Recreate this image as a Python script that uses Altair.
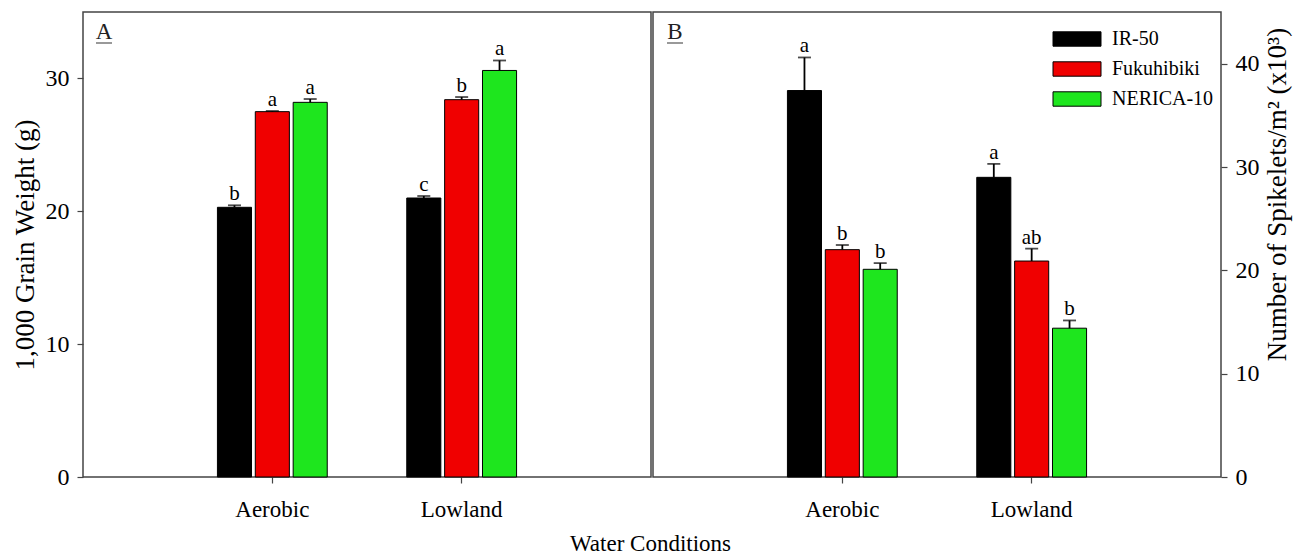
import altair as alt
import pandas as pd

FONT = "Liberation Serif"

conditions = ["Aerobic", "Lowland"]
varieties = ["IR-50", "Fukuhibiki", "NERICA-10"]
colors = ["#000000", "#f00000", "#1ee61e"]

row_cond = ["Aerobic", "Aerobic", "Aerobic", "Lowland", "Lowland", "Lowland"]
row_var = ["IR-50", "Fukuhibiki", "NERICA-10", "IR-50", "Fukuhibiki", "NERICA-10"]

# Panel A: 1,000 grain weight (g)
grain_mean = [20.3, 27.5, 28.2, 21.0, 28.4, 30.6]
grain_err = [0.15, 0.05, 0.25, 0.15, 0.2, 0.75]
grain_letter = ["b", "a", "a", "c", "b", "a"]

# Panel B: number of spikelets / m2 (x10^3)
spk_mean = [37.4, 22.0, 20.1, 29.0, 20.9, 14.4]
spk_err = [3.2, 0.45, 0.6, 1.3, 1.2, 0.75]
spk_letter = ["a", "b", "b", "a", "ab", "b"]


def make_df(mean, err, letters):
    return pd.DataFrame({
        "cond": row_cond,
        "var": row_var,
        "mean": mean,
        "upper": [m + e for m, e in zip(mean, err)],
        "letter": letters,
    })


W, H = 568, 465


def panel(df, ydomain, yticks, ytitle, orient, tag, tag_x, legend, title_y=None, title_pad=9):
    xenc = alt.X(
        "cond:N",
        scale=alt.Scale(domain=conditions, paddingInner=0.42, paddingOuter=0.71),
        axis=alt.Axis(title=None, labelAngle=0, domain=False, ticks=True, tickSize=6,
                      tickColor="#444", tickWidth=1.2, labelFont=FONT, labelFontSize=23,
                      labelColor="black", labelPadding=15),
    )
    xoff = alt.XOffset("var:N", scale=alt.Scale(domain=varieties, paddingInner=0.1, paddingOuter=0))
    ax_kw = dict(title=ytitle, orient=orient, values=yticks, grid=False, domain=False,
                 tickSize=6, tickColor="#444", tickWidth=1.2, labelFont=FONT, labelFontSize=24,
                 labelColor="black", labelPadding=8, titleFont=FONT, titleFontSize=27,
                 titleFontWeight="normal", titleColor="black", titlePadding=title_pad)
    if title_y is not None:
        ax_kw["titleY"] = title_y
        ax_kw["titleAngle"] = 270
        ax_kw["titleBaseline"] = "top"
    yscale = alt.Scale(domain=ydomain, nice=False, zero=True)
    yenc = alt.Y("mean:Q", scale=yscale, axis=alt.Axis(**ax_kw))
    base = alt.Chart(df)
    bars = base.mark_bar(stroke="black", strokeWidth=1).encode(
        x=xenc, xOffset=xoff, y=yenc,
        color=alt.Color("var:N", scale=alt.Scale(domain=varieties, range=colors), legend=legend),
    )
    err = base.mark_rule(color="black", strokeWidth=1.8).encode(
        x=xenc, xOffset=xoff, y=alt.Y("mean:Q", scale=yscale), y2="upper:Q")
    cap = base.mark_tick(color="black", thickness=1.8, size=13, orient="horizontal").encode(
        x=xenc, xOffset=xoff, y=alt.Y("upper:Q", scale=yscale))
    txt = base.mark_text(font=FONT, fontSize=21, color="black", baseline="alphabetic", dy=-5).encode(
        x=xenc, xOffset=xoff, y=alt.Y("upper:Q", scale=yscale), text="letter:N")
    tagdf = pd.DataFrame({"t": [tag]})
    tag_text = alt.Chart(tagdf).mark_text(font=FONT, fontSize=23, color="#222", baseline="alphabetic").encode(
        x=alt.value(tag_x), y=alt.value(27), text="t:N")
    tag_line = alt.Chart(tagdf).mark_rule(color="#555", strokeWidth=1.2).encode(
        x=alt.value(tag_x - 8), x2=alt.value(tag_x + 8), y=alt.value(31))
    return alt.layer(bars, err, cap, txt, tag_text, tag_line).properties(width=W, height=H)


legend_b = alt.Legend(
    title=None, orient="none", legendX=414, legendY=17,
    symbolType="M-3,-0.9H3V0.9H-3Z", symbolSize=256, symbolStrokeColor="black",
    symbolStrokeWidth=1, symbolOpacity=1, labelOffset=25, rowPadding=10,
    labelFont=FONT, labelFontSize=20, labelColor="black", padding=0,
)

pa = panel(make_df(grain_mean, grain_err, grain_letter), [0, 35], [0, 10, 20, 30],
           "1,000 Grain Weight (g)", "left", "A", 21, None, title_pad=6)
pb = panel(make_df(spk_mean, spk_err, spk_letter), [0, 45], [0, 10, 20, 30, 40],
           "Number of Spikelets/m² (x10³)", "right", "B", 22, legend_b, title_y=182, title_pad=5)

chart = alt.hconcat(pa, pb, spacing=0).resolve_scale(
    color="independent", y="independent", x="independent"
).properties(
    title=alt.TitleParams("Water Conditions", orient="bottom", anchor="middle", font=FONT,
                          fontSize=23, fontWeight="normal", color="black", offset=11),
    padding={"left": 2, "top": 3, "right": 2, "bottom": 2},
).configure_view(stroke="#444", strokeWidth=1.5)

chart.save("out.html", embed_options={"renderer": "svg", "actions": False})
